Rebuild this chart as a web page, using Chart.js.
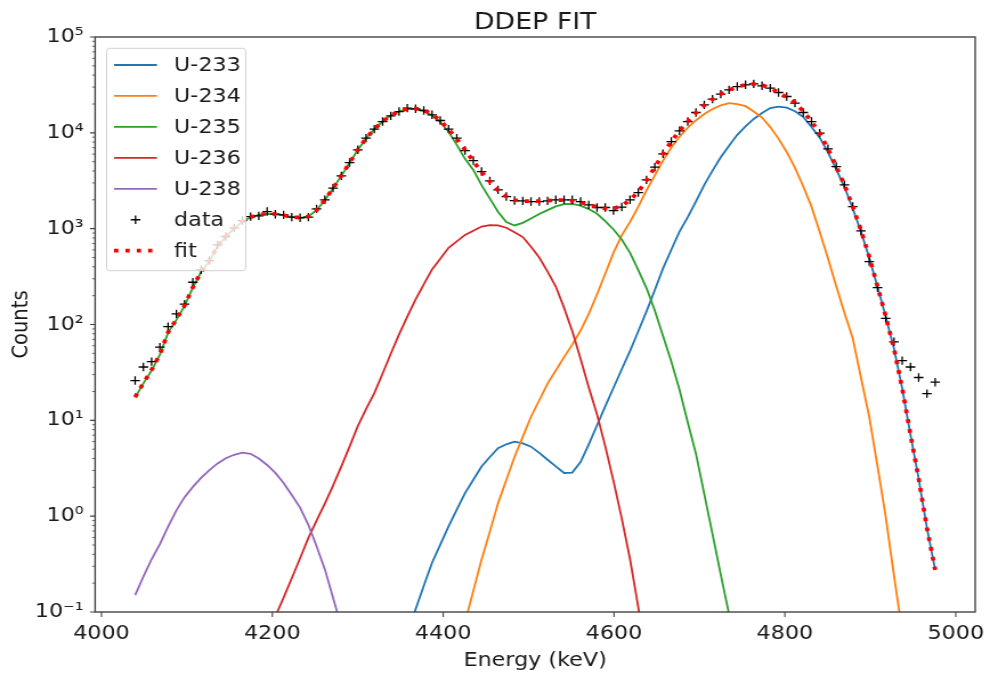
<!DOCTYPE html>
<html>
<head>
<meta charset="utf-8">
<title>DDEP FIT</title>
<script src="https://cdn.jsdelivr.net/npm/chart.js@4.4.1/dist/chart.umd.min.js"></script>
<style>
    html, body { margin: 0; padding: 0; background: #fff; }
    #fitChart { display: block; }
</style>
</head>
<body>
<!-- canvas is drawn 868 wide and stretched to 990, like the reference -->
<canvas id="fitChart" width="868" height="677" style="width: 990px; height: 677px;"></canvas>
<script>
// Energy of each channel (keV)
const energy = [
    4039.4, 4049.1, 4058.7, 4068.4, 4078.0, 4087.7, 4097.3, 4107.0, 4116.6, 4126.3,
    4136.0, 4145.6, 4155.3, 4164.9, 4174.6, 4184.2, 4193.9, 4203.5, 4213.2, 4222.8,
    4232.5, 4242.2, 4251.8, 4261.5, 4271.1, 4280.8, 4290.4, 4300.1, 4309.7, 4319.4,
    4329.1, 4338.7, 4348.4, 4358.0, 4367.7, 4377.3, 4387.0, 4396.6, 4406.3, 4415.9,
    4425.6, 4435.3, 4444.9, 4454.6, 4464.2, 4473.9, 4483.5, 4493.2, 4502.8, 4512.5,
    4522.2, 4531.8, 4541.5, 4551.1, 4560.8, 4570.4, 4580.1, 4589.7, 4599.4, 4609.0,
    4618.7, 4628.4, 4638.0, 4647.7, 4657.3, 4667.0, 4676.6, 4686.3, 4695.9, 4705.6,
    4715.3, 4724.9, 4734.6, 4744.2, 4753.9, 4763.5, 4773.2, 4782.8, 4792.5, 4802.1,
    4811.8, 4821.5, 4831.1, 4840.8, 4850.4, 4860.1, 4869.7, 4879.4, 4889.0, 4898.7,
    4908.4, 4918.0, 4927.7, 4937.3, 4947.0, 4956.6, 4966.3, 4975.9
];

// measured counts
const dataCounts = [
    26, 36, 41, 58, 95, 129, 163, 276, 372, 465,
    678, 828, 1012, 1215, 1337, 1360, 1509, 1416, 1393, 1318,
    1300, 1320, 1610, 2000, 2648, 3557, 4898, 6650, 8810, 10940,
    13120, 15040, 16680, 18120, 17810, 17100, 15420, 13450, 10940, 8810,
    6530, 5140, 3945, 3155, 2540, 2163, 1965, 1950, 1918, 1918,
    1950, 2000, 2000, 2000, 1918, 1772, 1662, 1662, 1546, 1680,
    2000, 2383, 3230, 4385, 6040, 8110, 10500, 13120, 16300, 19600,
    22490, 25350, 28100, 30420, 31700, 32460, 30970, 29290, 26360, 23930,
    20420, 16300, 13120, 9930, 6810, 4450, 2865, 1702, 948, 454,
    243, 116, 66, 42, 36, 28, 19, 25
];

// total fit
const fitCounts = [
    17.5, 24.5, 33.5, 49, 83, 113, 158, 245, 355, 460,
    660, 830, 1010, 1190, 1320, 1400, 1430, 1420, 1380, 1330,
    1300, 1340, 1560, 1980, 2650, 3560, 4880, 6620, 8750, 10950,
    13150, 15200, 16800, 17800, 17900, 17200, 15600, 13400, 10900, 8650,
    6650, 5050, 3900, 3100, 2520, 2170, 1990, 1940, 1930, 1940,
    1960, 1980, 1980, 1950, 1880, 1780, 1680, 1620, 1620, 1730,
    1990, 2430, 3200, 4380, 6050, 8100, 10500, 13100, 16200, 19400,
    22400, 25300, 28000, 30300, 31800, 32300, 31500, 29300, 26400, 23400,
    20600, 16800, 13150, 9900, 6800, 4450, 2850, 1702, 966, 509,
    249, 122, 56, 21.6, 7.05, 2.45, 0.75, 0.275
];

const u233 = [
    null, null, null, null, null, null, null, null, null, null,
    null, null, null, null, null, null, null, null, null, null,
    null, null, null, null, null, null, null, null, null, null,
    null, null, null, 0.056, 0.107, 0.1875, 0.327, 0.505, 0.783, 1.17,
    1.74, 2.40, 3.30, 4.14, 5.12, 5.62, 6.0, 5.75, 5.31, 4.57,
    3.88, 3.31, 2.82, 2.85, 3.67, 5.62, 8.89, 14.0, 21.9, 34.1,
    53, 85, 137, 229, 385, 603, 933, 1318, 1928, 2864,
    4036, 5560, 7345, 9530, 11670, 13960, 16100, 18150, 18790, 18280,
    16800, 14600, 11480, 8910, 6258, 4156, 2717, 1624, 936, 498,
    246, 121, 56, 21.6, 7.05, 2.45, 0.75, 0.275
];

const u234 = [
    null, null, null, null, null, null, null, null, null, null,
    null, null, null, null, null, null, null, null, null, null,
    null, null, null, null, null, null, null, null, null, null,
    null, null, null, null, null, null, null, null, null, null,
    0.078, 0.166, 0.352, 0.69, 1.36, 2.38, 4.15, 6.76, 10.9, 16.2,
    24.2, 33.1, 45.7, 61.7, 86.5, 129, 207, 339, 562, 851,
    1175, 1698, 2512, 3606, 5130, 7015, 9120, 11300, 13550, 15700,
    17740, 19320, 20370, 19950, 18970, 16670, 14450, 11480, 8710, 6310,
    4315, 2754, 1698, 923, 490, 251, 132, 72, 28, 10.9,
    3.3, 0.99, 0.24, 0.063, null, null, null, null
];

const u235 = [
    17.3, 24.3, 33.1, 48.5, 82.2, 111.9, 156.4, 243, 352.5, 457,
    656, 826, 1006, 1185, 1315, 1396, 1427, 1417, 1378, 1328,
    1298, 1339, 1559, 1978, 2648, 3557, 4875, 6611, 8737, 10930,
    13120, 15150, 16720, 17680, 17720, 16940, 15220, 12910, 10270, 7500,
    5350, 4100, 2850, 2060, 1500, 1170, 1080, 1150, 1280, 1420,
    1560, 1710, 1800, 1810, 1740, 1600, 1430, 1200, 980, 770,
    560, 370, 240, 140, 76, 41, 21, 9.5, 4.47, 1.70,
    0.65, 0.245, 0.095, 0.035, null, null, null, null, null, null,
    null, null, null, null, null, null, null, null, null, null,
    null, null, null, null, null, null, null, null
];

const u236 = [
    null, null, null, null, null, null, null, null, null, null,
    null, null, null, null, null, null, null, 0.09, 0.141, 0.225,
    0.364, 0.593, 0.90, 1.35, 2.08, 3.31, 5.31, 8.71, 13.1, 19.2,
    30.8, 49.5, 79, 121, 183, 262, 376, 486, 631, 736,
    861, 953, 1052, 1086, 1084, 1023, 920, 817, 649, 500,
    356, 249, 149, 85.5, 44, 22, 11.5, 5.38, 2.32, 0.95,
    0.355, 0.112, 0.03, null, null, null, null, null, null, null,
    null, null, null, null, null, null, null, null, null, null,
    null, null, null, null, null, null, null, null, null, null,
    null, null, null, null, null, null, null, null
];

const u238 = [
    0.15, 0.234, 0.355, 0.51, 0.776, 1.15, 1.58, 2.02, 2.51, 3.02,
    3.55, 4.03, 4.37, 4.60, 4.47, 4.0, 3.42, 2.83, 2.22, 1.66,
    1.23, 0.81, 0.485, 0.28, 0.141, 0.07, null, null, null, null,
    null, null, null, null, null, null, null, null, null, null,
    null, null, null, null, null, null, null, null, null, null,
    null, null, null, null, null, null, null, null, null, null,
    null, null, null, null, null, null, null, null, null, null,
    null, null, null, null, null, null, null, null, null, null,
    null, null, null, null, null, null, null, null, null, null,
    null, null, null, null, null, null, null, null
];

const xTicks = [4000, 4200, 4400, 4600, 4800, 5000];
const yTicks = [0.1, 1, 10, 100, 1000, 10000, 100000];
const yTickLabels = ['10⁻¹', '10⁰', '10¹', '10²', '10³', '10⁴', '10⁵'];

const COLORS = {
    blue: '#1f77b4',
    orange: '#ff7f0e',
    green: '#2ca02c',
    red: '#d62728',
    purple: '#9467bd',
};
const FONT = 'DejaVu Sans';
const TEXT_COLOR = '#1a1a1a';
const AXIS_COLOR = '#444';

function toPoints(values) {
    return energy.map((e, i) => ({x: e, y: values[i]}));
}

function lineSet(label, values, color, order) {
    return {
        label: label,
        data: toPoints(values),
        showLine: true,
        borderColor: color,
        backgroundColor: color,
        borderWidth: 1.8,
        pointRadius: 0,
        pointHoverRadius: 0,
        tension: 0,
        clip: 0,
        order: order,
    };
}

// frame, tick marks, legend and title (matplotlib look)
const decorPlugin = {
    id: 'decor',
    afterDatasetsDraw(chart) {
        const ctx = chart.ctx;
        const area = chart.chartArea;
        const xs = chart.scales.x;
        const ys = chart.scales.y;
        ctx.save();

        ctx.strokeStyle = AXIS_COLOR;
        ctx.lineWidth = 1.4;
        ctx.strokeRect(area.left, area.top, area.right - area.left, area.bottom - area.top);

        // major ticks
        ctx.lineWidth = 1.1;
        ctx.beginPath();
        xTicks.forEach(v => {
            const px = xs.getPixelForValue(v);
            ctx.moveTo(px, area.bottom);
            ctx.lineTo(px, area.bottom + 5);
        });
        yTicks.forEach(v => {
            const py = ys.getPixelForValue(v);
            ctx.moveTo(area.left, py);
            ctx.lineTo(area.left - 4.5, py);
        });
        ctx.stroke();

        // minor ticks on the log axis
        ctx.lineWidth = 0.8;
        ctx.beginPath();
        for (let k = -1; k < 5; k++) {
            for (let m = 2; m < 10; m++) {
                const py = ys.getPixelForValue(m * Math.pow(10, k));
                ctx.moveTo(area.left, py);
                ctx.lineTo(area.left - 2.6, py);
            }
        }
        ctx.stroke();

        // legend box
        const box = {left: 93.5, top: 48.3, right: 215.4, bottom: 270.7};
        ctx.beginPath();
        ctx.roundRect(box.left, box.top, box.right - box.left, box.bottom - box.top, 3);
        ctx.fillStyle = 'rgba(255,255,255,0.8)';
        ctx.fill();
        ctx.strokeStyle = '#d0d0d0';
        ctx.lineWidth = 1;
        ctx.stroke();

        const hx0 = 100, hx1 = 137.6, tx = 152.6;
        ctx.font = '19.5px "' + FONT + '"';
        ctx.textBaseline = 'middle';
        ctx.textAlign = 'left';
        chart.data.datasets.forEach((ds, i) => {
            const y = 65 + 30.95 * i;
            ctx.save();
            if (ds.showLine) {
                ctx.strokeStyle = ds.borderColor;
                ctx.lineWidth = ds.borderWidth;
                if (ds.borderDash) {
                    ctx.setLineDash(ds.borderDash);
                }
                ctx.beginPath();
                ctx.moveTo(hx0, y);
                ctx.lineTo(hx1, y);
                ctx.stroke();
            } else {
                const cx = (hx0 + hx1) / 2;
                const r = ds.pointRadius;
                ctx.strokeStyle = ds.pointBorderColor;
                ctx.lineWidth = ds.pointBorderWidth;
                ctx.beginPath();
                ctx.moveTo(cx - r, y);
                ctx.lineTo(cx + r, y);
                ctx.moveTo(cx, y - r);
                ctx.lineTo(cx, y + r);
                ctx.stroke();
            }
            ctx.restore();
            ctx.fillStyle = TEXT_COLOR;
            ctx.fillText(ds.label, tx, y + 1);
        });

        // title
        ctx.fillStyle = TEXT_COLOR;
        ctx.font = '23.5px "' + FONT + '"';
        ctx.textAlign = 'center';
        ctx.textBaseline = 'alphabetic';
        ctx.fillText('DDEP FIT', (area.left + area.right) / 2, 29.3);
        ctx.restore();
    }
};

const datasets = [
    lineSet('U-233', u233, COLORS.blue, 7),
    lineSet('U-234', u234, COLORS.orange, 6),
    lineSet('U-235', u235, COLORS.green, 5),
    lineSet('U-236', u236, COLORS.red, 4),
    lineSet('U-238', u238, COLORS.purple, 3),
    {
        label: 'data',
        data: toPoints(dataCounts),
        showLine: false,
        pointStyle: 'cross',
        pointRadius: 4.2,
        pointBorderColor: '#000',
        pointBorderWidth: 1.3,
        pointBackgroundColor: '#000',
        order: 2,
    },
    {
        label: 'fit',
        data: toPoints(fitCounts),
        showLine: true,
        borderColor: '#ff0000',
        borderWidth: 3.75,
        borderDash: [3.75, 6.2],
        borderCapStyle: 'butt',
        pointRadius: 0,
        tension: 0,
        clip: 0,
        order: 1,
    },
];

const chart = new Chart(document.getElementById('fitChart'), {
    type: 'scatter',
    data: {datasets: datasets},
    options: {
        responsive: false,
        animation: false,
        devicePixelRatio: 1,
        events: [],
        layout: {padding: {top: 37, right: 9.2, bottom: 0, left: 0}},
        plugins: {
            legend: {display: false},
            tooltip: {enabled: false},
            title: {display: false},
        },
        scales: {
            x: {
                type: 'linear',
                min: 3992.6,
                max: 5022.7,
                grid: {display: false, drawTicks: true, tickLength: 5},
                border: {display: false},
                afterBuildTicks: (scale) => {
                    scale.ticks = xTicks.map(v => ({value: v}));
                },
                afterFit: (scale) => {
                    scale.height = 65;
                },
                ticks: {
                    autoSkip: false,
                    maxRotation: 0,
                    padding: 5,
                    color: TEXT_COLOR,
                    font: {family: FONT, size: 19.5},
                    callback: (v) => String(v),
                },
                title: {
                    display: true,
                    text: 'Energy (keV)',
                    color: TEXT_COLOR,
                    font: {family: FONT, size: 19.5},
                    padding: {top: 4, bottom: 4},
                },
            },
            y: {
                type: 'logarithmic',
                min: 0.1,
                max: 100000,
                grid: {display: false, drawTicks: true, tickLength: 5},
                border: {display: false},
                afterBuildTicks: (scale) => {
                    scale.ticks = yTicks.map(v => ({value: v}));
                },
                afterFit: (scale) => {
                    scale.width = 83.4;
                },
                ticks: {
                    autoSkip: false,
                    padding: 5,
                    color: TEXT_COLOR,
                    font: {family: FONT, size: 19.5},
                    callback: (v) => {
                        const idx = yTicks.indexOf(v);
                        return idx >= 0 ? yTickLabels[idx] : '';
                    },
                },
                title: {
                    display: true,
                    text: 'Counts',
                    color: TEXT_COLOR,
                    font: {family: FONT, size: 19.5},
                    padding: {top: 7, bottom: 7},
                },
            },
        },
    },
    plugins: [decorPlugin],
});
</script>
</body>
</html>
